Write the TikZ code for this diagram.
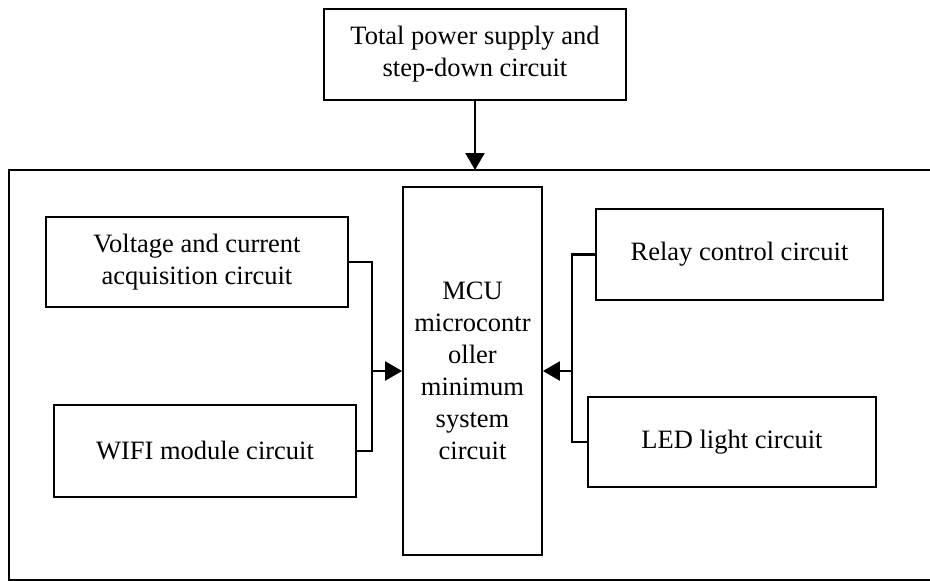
\documentclass[tikz,border=0pt]{standalone}
\usepackage{fontspec}
\setmainfont{Liberation Serif}
\usetikzlibrary{arrows.meta,positioning}

\tikzset{
  block/.style={draw, line width=1.8pt, inner sep=0pt, align=center,
    font=\fontsize{26.5}{32}\selectfont},
  link/.style={line width=2.3pt},
  feed/.style={line width=2.3pt, -{Triangle[length=17pt, width=19pt]}}
}

\begin{document}
\begin{tikzpicture}[x=1pt, y=-1pt]
  \useasboundingbox (0,0) rectangle (930,581);
  \clip (0,0) rectangle (930,581);

  % Outer frame (right side runs off the page)
  \coordinate (frameNW) at (9,170);
  \coordinate (frameSW) at (9,580);
  \draw[line width=2.6pt] (934,170) -- (frameNW) -- (frameSW) -- (934,580);

  % Power supply
  \node[block, minimum width=302pt, minimum height=91pt] (power) at (475,54.5)
    {Total power supply and\\step-down circuit};

  % MCU
  \node[block, minimum width=139pt, minimum height=368pt] (mcu) at (472.5,371)
    {MCU\\microcontr\\oller\\minimum\\system\\circuit};

  % Left side blocks
  \node[block, minimum width=302pt, minimum height=90pt] (volt) at (197,262)
    {Voltage and current\\acquisition circuit};
  \node[block, minimum width=302pt, minimum height=92pt] (wifi) at (205,451)
    {WIFI module circuit};

  % Right side blocks
  \node[block, minimum width=287pt, minimum height=91pt] (relay) at (739.5,254.5)
    {Relay control circuit};
  \node[block, minimum width=288pt, minimum height=90pt] (led) at (732,442)
    {LED light circuit};

  % Connections
  \draw[feed] (power) -- (power |- frameNW);

  \coordinate (junL) at (372,371);
  \draw[link] (volt.east) -| (junL);
  \draw[link] (wifi.east) -| (junL);
  \draw[feed] (junL) -- (mcu.west);

  \coordinate (junR) at (572,371);
  \draw[link] (relay.west) -| (junR);
  \draw[link] (led.west) -| (junR);
  \draw[feed] (junR) -- (mcu.east);
\end{tikzpicture}
\end{document}
